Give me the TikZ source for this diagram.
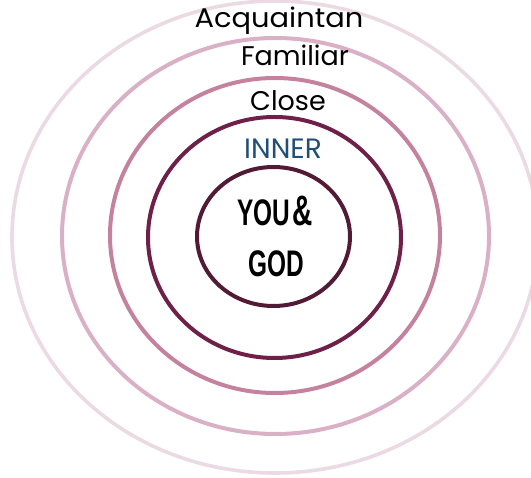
\documentclass[tikz,border=0pt]{standalone}
\usepackage{fontspec}
\setmainfont{Poppins}
\newfontfamily\condfont[FakeStretch=0.66]{Liberation Sans}
\definecolor{ringA}{HTML}{EBD9E3}
\definecolor{ringB}{HTML}{D9B0C5}
\definecolor{ringC}{HTML}{C4829F}
\definecolor{ringD}{HTML}{6E2049}
\definecolor{ringE}{HTML}{521A34}
\definecolor{innerblue}{HTML}{1F4E79}
\begin{document}
\begin{tikzpicture}[x=1pt,y=-1pt,
  ring/.style={line width=4pt},
  lbl/.style={inner sep=0pt,anchor=base,font=\fontsize{27}{27}\selectfont},
  core/.style={inner sep=0pt,anchor=base,font=\condfont\bfseries\fontsize{37}{37}\selectfont}]
\useasboundingbox (0,0) rectangle (531,478);
\clip (0,0) rectangle (531,478);
\draw[ring,ringA,line width=3.6pt] (275,237) ellipse [x radius=263pt,y radius=236pt];
\draw[ring,ringB] (275.5,236) ellipse [x radius=213.5pt,y radius=198pt];
\draw[ring,ringC] (275,235.5) ellipse [x radius=165pt,y radius=157.5pt];
\draw[ring,ringD] (274.5,237.5) ellipse [x radius=126.5pt,y radius=120.5pt];
\draw[ring,ringE] (273.5,236.5) ellipse [x radius=76.5pt,y radius=69.5pt];
\node[lbl] (acq) at (279,28) {\scalebox{1.07}[1]{Acquaintan}};
\node[lbl] (fam) at (295,66) {Familiar};
\node[lbl] (clo) at (288,111) {Close};
\node[lbl,text=innerblue,font=\fontsize{28}{28}\selectfont] (inn) at (283,159) {INNER};
\node[core] (you) at (275,226) {YOU\kern2pt\scalebox{1.15}{\&}};
\node[core] (god) at (276.5,277) {GOD};
\end{tikzpicture}
\end{document}
